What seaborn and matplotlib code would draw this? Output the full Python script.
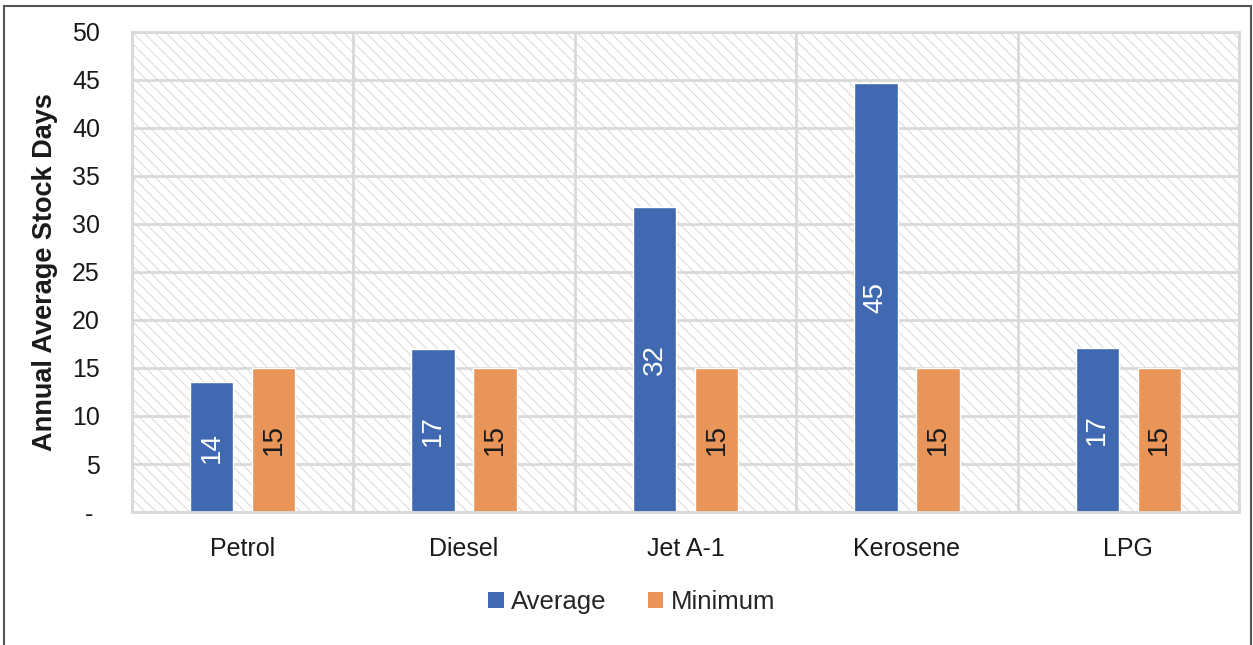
import matplotlib
matplotlib.use("Agg")
import matplotlib.pyplot as plt
from matplotlib.patches import Rectangle, Patch
import seaborn as sns
import pandas as pd

# Annual average stock days by fuel product
fuels = ["Petrol", "Diesel", "Jet A-1", "Kerosene", "LPG"]
average_days = [13.5, 17.0, 31.8, 44.7, 17.1]
minimum_days = [15, 15, 15, 15, 15]
series_names = ["Average", "Minimum"]
y_ticks = [0, 5, 10, 15, 20, 25, 30, 35, 40, 45, 50]
y_tick_labels = ["- ", "5", "10", "15", "20", "25", "30", "35", "40", "45", "50"]

colors = {"Average": "#4169B2", "Minimum": "#E9955A"}
label_colors = {"Average": "white", "Minimum": "#1a1a1a"}

df = pd.DataFrame({
    "Fuel": fuels * 2,
    "Series": [series_names[0]] * len(fuels) + [series_names[1]] * len(fuels),
    "Days": average_days + minimum_days,
})

sns.set_theme(style="white")
plt.rcParams["font.family"] = ["Liberation Sans", "DejaVu Sans"]
plt.rcParams["hatch.linewidth"] = 0.6

fig = plt.figure(figsize=(12.53, 6.45), dpi=100)
ax = fig.add_axes([0.1053, 0.2062, 0.8835, 0.7442])

# hatched plot-area background
bg = Rectangle((0, 0), 1, 1, transform=ax.transAxes, facecolor="white",
               edgecolor="#d2d2d2", hatch="\\\\\\", linewidth=0, zorder=0.1)
ax.add_patch(bg)

sns.barplot(data=df, x="Fuel", y="Days", hue="Series", order=fuels,
            hue_order=series_names, palette=colors, width=0.56, gap=0.3,
            saturation=1, legend=False, ax=ax, zorder=2)

for container, name in zip(ax.containers, series_names):
    vals = average_days if name == "Average" else minimum_days
    ax.bar_label(container, labels=[f"{v:.0f}" for v in vals], label_type="center",
                 rotation=90, color=label_colors[name], fontsize=20)

ax.set_ylim(0, 50)
ax.set_xlim(-0.5, len(fuels) - 0.5)
ax.set_yticks(y_ticks)
ax.set_yticklabels(y_tick_labels)

# grid: horizontal at ticks, vertical at category boundaries
for y in y_ticks:
    ax.axhline(y, color="#d9d9d9", linewidth=2, zorder=0.5)
for i in range(len(fuels) + 1):
    ax.axvline(i - 0.5, color="#d9d9d9", linewidth=2, zorder=0.5)

for sp in ax.spines.values():
    sp.set_visible(True)
    sp.set_color("#d9d9d9")
    sp.set_linewidth(2)

ax.tick_params(axis="both", length=0, labelsize=18, colors="#1a1a1a")
ax.tick_params(axis="y", pad=23)
ax.tick_params(axis="x", pad=18)
ax.set_xlabel("")
ax.set_ylabel("Annual Average Stock Days", fontsize=19.5, fontweight="bold",
              color="#1a1a1a", labelpad=10)

handles = [Patch(facecolor=colors[n], edgecolor="none", label=n) for n in series_names]
fig.legend(handles=handles, loc="center", bbox_to_anchor=(632 / 1253, 1 - 602 / 645),
           ncol=2, frameon=False, fontsize=18.5, handlelength=0.6, handleheight=0.6,
           handletextpad=0.3, columnspacing=1.6)

# outer border of the figure
fig.patches.append(Rectangle((4 / 1253, -0.05), 1247 / 1253, 1.05 - 6 / 645,
                             transform=fig.transFigure, fill=False,
                             edgecolor="#555555", linewidth=1.5, zorder=10))

fig.savefig("out.png", dpi=100)
